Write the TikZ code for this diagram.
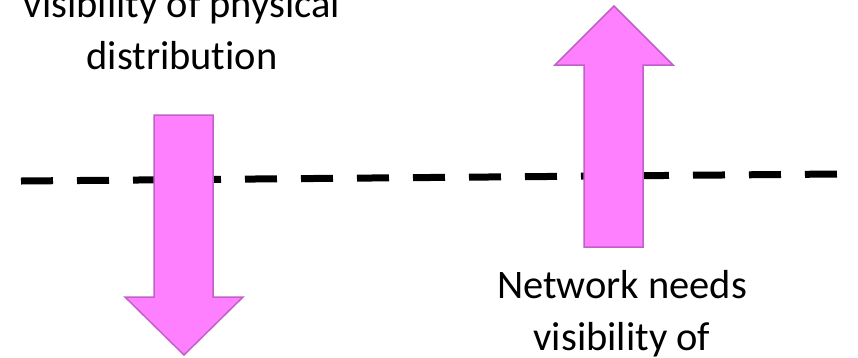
\documentclass[tikz,border=0pt]{standalone}
\usepackage{fontspec}
\setmainfont{Carlito}[Ligatures={NoCommon}]
\definecolor{pinkfill}{HTML}{FF80FF}
\definecolor{pinkline}{HTML}{C060C8}
\tikzset{
  bigarrow/.style={fill=pinkfill, draw=pinkline, line width=1.5pt, line join=miter},
  divider/.style={line width=7pt, dash pattern=on 32pt off 24pt},
  label/.style={font=\fontsize{40.5}{52}\selectfont, align=center, inner sep=0pt, anchor=base}
}
\begin{document}
\begin{tikzpicture}[x=1pt,y=-1pt]
\useasboundingbox (0,0) rectangle (858,357);
\clip (0,0) rectangle (858,357);
\coordinate (dl) at (21,181);
\coordinate (dr) at (838,174);
\draw[divider] (dl) -- (dr);
% down arrow
\draw[bigarrow] (154,115) -- (213,115) -- (213,297) -- (243,297) -- (184,355) -- (125,297) -- (154,297) -- cycle;
% up arrow
\draw[bigarrow] (584,247) -- (643,247) -- (643,65) -- (673,65) -- (614,6) -- (555,65) -- (584,65) -- cycle;
\node[label] (lefttext) at (182,69) {visibility of physical\\distribution};
\node[label] (righttext) at (622,350) {Network needs\\visibility of};
\end{tikzpicture}
\end{document}
